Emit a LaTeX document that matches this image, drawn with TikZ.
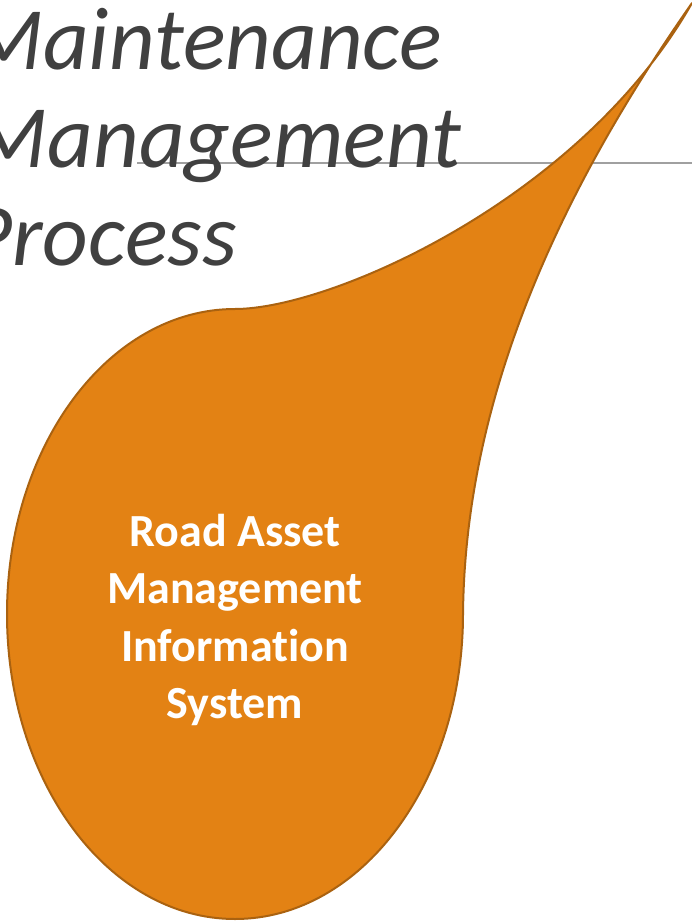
\documentclass[tikz,border=0pt]{standalone}
\usepackage{fontspec}
\setmainfont{Carlito}[Ligatures=NoCommon]
\usetikzlibrary{positioning}
\definecolor{dropfill}{RGB}{227,130,20}
\definecolor{dropline}{RGB}{170,98,16}
\definecolor{titlegray}{RGB}{64,64,64}
\definecolor{rulegray}{RGB}{160,160,160}

\begin{document}
\begin{tikzpicture}[x=1pt, y=1pt]
	\useasboundingbox (0,0) rectangle (692,-923);
	\clip (0,0) rectangle (692,-923);
	\coordinate (ruleL) at (137,-163);
	\coordinate (ruleR) at (692,-163);
	\draw [color=rulegray, line width=1.5pt] (ruleL) -- (ruleR);
	\node [anchor=base east, inner sep=0pt, text=titlegray, font=\fontsize{89}{89}\selectfont\itshape] (title1) at (442,-70) {Maintenance};
	\node [anchor=base east, inner sep=0pt, text=titlegray, font=\fontsize{89}{89}\selectfont\itshape] (title2) at (461,-167) {Management};
	\node [anchor=base east, inner sep=0pt, text=titlegray, font=\fontsize{89}{89}\selectfont\itshape] (title3) at (237,-265) {Process};
	\draw [fill=dropfill, draw=dropline, line width=2pt, line join=round] (463,-614) arc [start angle=0, end angle=-270, x radius=228, y radius=305] .. controls (330,-309) and (580,-200) .. (692,-3) .. controls (540,-220) and (465,-420) .. cycle;
	\node [text=white, align=center, font=\fontsize{46}{57.5}\selectfont\bfseries] (rami) at (235,-620) {Road Asset\\Management\\Information\\System};
\end{tikzpicture}
\end{document}
